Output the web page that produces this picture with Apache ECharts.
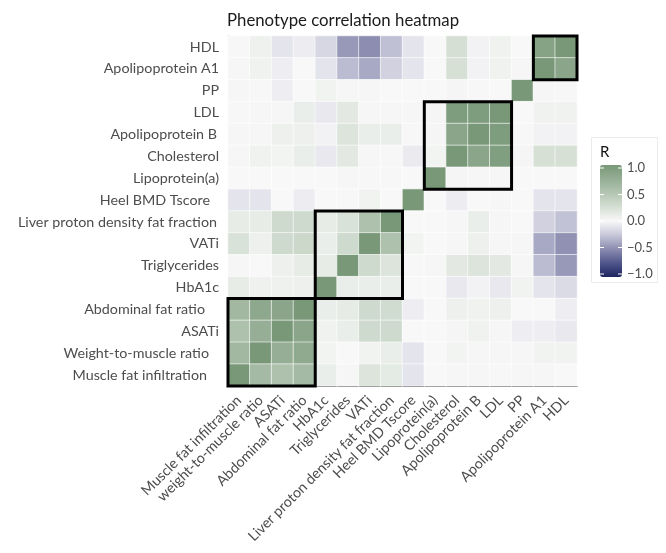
<!DOCTYPE html>
<html><head><meta charset="utf-8">
<script src="https://cdn.jsdelivr.net/npm/echarts/dist/echarts.min.js"></script>
<style>html,body{margin:0;padding:0;background:#fff}#c{width:666px;height:553px}</style>
</head><body><div id="c"></div>
<script>
// Column order (left to right); y axis uses the same order bottom to top
const xLabels = ['Muscle fat infiltration','weight-to-muscle ratio','ASATi','Abdominal fat ratio','HbA1c','Triglycerides','VATi','Liver proton density fat fraction','Heel BMD Tscore','Lipoprotein(a)','Cholesterol','Apolipoprotein B','LDL','PP','Apolipoprotein A1','HDL'];
const yLabels = ['Muscle fat infiltration','Weight-to-muscle ratio','ASATi','Abdominal fat ratio','HbA1c','Triglycerides','VATi','Liver proton density fat fraction','Heel BMD Tscore','Lipoprotein(a)','Cholesterol','Apolipoprotein B','LDL','PP','Apolipoprotein A1','HDL'];

// Correlation rows, top row (HDL) to bottom row (Muscle fat infiltration); values in column order
const rowHDL      = [0.01, 0.07,-0.10,-0.06,-0.17,-0.45,-0.50,-0.28,-0.10, 0.00, 0.25,-0.03, 0.06, 0.00, 0.88, 1.00];
const rowApoA1    = [0.02, 0.06,-0.05, 0.00,-0.10,-0.30,-0.38,-0.20,-0.10, 0.00, 0.24,-0.03, 0.06, 0.02, 1.00, 0.85];
const rowPP       = [0.02, 0.01,-0.05, 0.00, 0.05, 0.02, 0.02, 0.00, 0.00, 0.00, 0.03, 0.01, 0.00, 1.00, 0.02, 0.01];
const rowLDL      = [0.01, 0.02, 0.02, 0.10,-0.08, 0.15, 0.02, 0.02, 0.02, 0.03, 0.95, 0.95, 1.00, 0.00, 0.06, 0.06];
const rowApoB     = [0.02, 0.02, 0.08, 0.08,-0.03, 0.20, 0.10, 0.10, 0.01, 0.03, 0.85, 1.00, 0.95, 0.01,-0.03,-0.03];
const rowChol     = [0.02, 0.06, 0.04, 0.10,-0.08, 0.15, 0.02, 0.01,-0.07, 0.04, 1.00, 0.85, 0.93, 0.03, 0.24, 0.24];
const rowLpa      = [0.00, 0.00, 0.00, 0.00, 0.00, 0.02, 0.01, 0.01, 0.00, 1.00, 0.03, 0.02, 0.02, 0.00, 0.00, 0.00];
const rowHeel     = [-0.10,-0.10, 0.00,-0.06, 0.00, 0.01, 0.05, 0.00, 1.00, 0.00,-0.06, 0.00, 0.02, 0.00,-0.10,-0.10];
const rowLiver    = [0.12, 0.12, 0.30, 0.30, 0.12, 0.22, 0.55, 1.00, 0.00, 0.00, 0.02, 0.10, 0.02, 0.00,-0.20,-0.27];
const rowVATi     = [0.22, 0.08, 0.30, 0.32, 0.10, 0.30, 1.00, 0.55, 0.04, 0.00, 0.02, 0.08, 0.02, 0.02,-0.38,-0.48];
const rowTrig     = [0.02, 0.00, 0.08, 0.12, 0.12, 1.00, 0.30, 0.20, 0.01, 0.02, 0.15, 0.20, 0.15, 0.02,-0.30,-0.45];
const rowHbA1c    = [0.12, 0.07, 0.07, 0.08, 1.00, 0.10, 0.10, 0.10, 0.00, 0.00,-0.08,-0.03,-0.08, 0.05,-0.10,-0.15];
const rowAFR      = [0.65, 0.82, 0.85, 1.00, 0.10, 0.13, 0.30, 0.28,-0.05, 0.00, 0.08, 0.06, 0.08, 0.00, 0.00,-0.05];
const rowASATi    = [0.55, 0.75, 1.00, 0.85, 0.06, 0.10, 0.30, 0.30, 0.00, 0.00, 0.03, 0.06, 0.02,-0.05,-0.05,-0.08];
const rowWMR      = [0.65, 1.00, 0.75, 0.80, 0.04, 0.00, 0.05, 0.10,-0.10, 0.00, 0.04, 0.02, 0.02, 0.02, 0.05, 0.05];
const rowMFI      = [1.00, 0.62, 0.55, 0.62, 0.10, 0.02, 0.20, 0.14,-0.10, 0.00, 0.02, 0.02, 0.01, 0.02, 0.02, 0.00];

// Cluster boxes: [firstColumn, lastColumn] (same indices on y)
const clusters = [[0,3],[4,7],[9,12],[14,15]];

// Colour-bar tick labels
const legendBreaks = [1.0, 0.5, 0.0, -0.5, -1.0];

const rowsTopToBottom = [rowHDL,rowApoA1,rowPP,rowLDL,rowApoB,rowChol,rowLpa,rowHeel,rowLiver,rowVATi,rowTrig,rowHbA1c,rowAFR,rowASATi,rowWMR,rowMFI];
const n = xLabels.length;
const heatData = [];
rowsTopToBottom.forEach((row, r) => row.forEach((v, c) => heatData.push([c, n - 1 - r, v])));
const boxData = clusters.map(b => [b[0], b[1], b[0], b[1]]);

// label offsets emulating trailing spaces in original labels (style only)
const yPad = {'Apolipoprotein B':2,'Heel BMD Tscore':9,'Liver proton density fat fraction':2,'Abdominal fat ratio':14,'Weight-to-muscle ratio':10,'Muscle fat infiltration':12};

const FONT = 'Lato';
const FS = 14.3;
const LC = '#4d4d4d';
const chart = echarts.init(document.getElementById('c'), null, {renderer:'canvas'});

const barTop = 165, barH = 112, barLeft = 600, barW = 22;
const graphics = [
  {type:'rect', shape:{x:591.5,y:137.5,width:66,height:145}, style:{fill:'none',stroke:'#ebebeb',lineWidth:1}, z:1},
  {type:'text', x:600, y:145, style:{text:'R', fontFamily:FONT, fontSize:15, fill:'#111'}}
];
legendBreaks.forEach(v => {
  const y = barTop + 3 + (1 - v) / 2 * (barH - 6);
  graphics.push({type:'text', x:627, y:y, style:{text:(v<0?'\u2212':'') + Math.abs(v).toFixed(1), fontFamily:FONT, fontSize:13, fill:LC, verticalAlign:'middle'}, z:10});
  graphics.push({type:'line', shape:{x1:barLeft, y1:y, x2:barLeft+4, y2:y}, style:{stroke:'#fff', lineWidth:1}, z:10});
  graphics.push({type:'line', shape:{x1:barLeft+barW-4, y1:y, x2:barLeft+barW, y2:y}, style:{stroke:'#fff', lineWidth:1}, z:10});
});

const rich = {};
[2,9,10,12,14].forEach(p => { rich['p' + p] = {padding:[0,p,0,0], fontFamily:FONT, fontSize:FS, color:LC}; });

chart.setOption({
  animation:false,
  backgroundColor:'#fff',
  title:{text:'Phenotype correlation heatmap', left:222, top:7, textStyle:{fontFamily:FONT, fontSize:16.8, fontWeight:'normal', color:'#1a1a1a'}},
  grid:{left:228, top:36, right:89, bottom:167},
  xAxis:{type:'category', data:xLabels, splitArea:{show:false},
    axisLine:{lineStyle:{color:'#222', width:1}},
    axisTick:{alignWithLabel:true, length:4, lineStyle:{color:'#333'}},
    axisLabel:{rotate:45, interval:0, margin:12, fontFamily:FONT, fontSize:FS, color:LC}},
  yAxis:{type:'category', data:yLabels, splitArea:{show:false},
    axisLine:{lineStyle:{color:'#222', width:1}},
    axisTick:{alignWithLabel:true, length:4, lineStyle:{color:'#333'}},
    axisLabel:{interval:0, margin:9, fontFamily:FONT, fontSize:FS, color:LC,
      formatter: v => yPad[v] ? '{p' + yPad[v] + '|' + v + '}' : v,
      rich:rich}},
  visualMap:{type:'continuous', min:-1, max:1, seriesIndex:0, calculable:false, show:true,
    orient:'vertical', left:barLeft, top:barTop, itemWidth:barW, itemHeight:barH, padding:0,
    textStyle:{color:'transparent'}, text:null,
    inRange:{color:['#1c235f','#50568a','#8c8db0','#c7c7d9','#f8f8f8','#d5dfd4','#b3c6b2','#96ae95','#789878']}},
  graphic:graphics,
  series:[
    {type:'heatmap', data:heatData, itemStyle:{borderColor:'#fff', borderWidth:0.6}, emphasis:{disabled:true}},
    {type:'custom', data:boxData, encode:{x:[0,1], y:[2,3]}, z:10, silent:true,
      renderItem:(params, api) => {
        const a = api.coord([api.value(0), api.value(2)]);
        const b = api.coord([api.value(1), api.value(3)]);
        const s = api.size([1,1]);
        return {type:'rect', shape:{x:a[0]-s[0]/2, y:b[1]-s[1]/2, width:b[0]-a[0]+s[0], height:a[1]-b[1]+s[1]},
          style:{fill:'none', stroke:'#000', lineWidth:3}};
      }}
  ]
});
</script></body></html>
